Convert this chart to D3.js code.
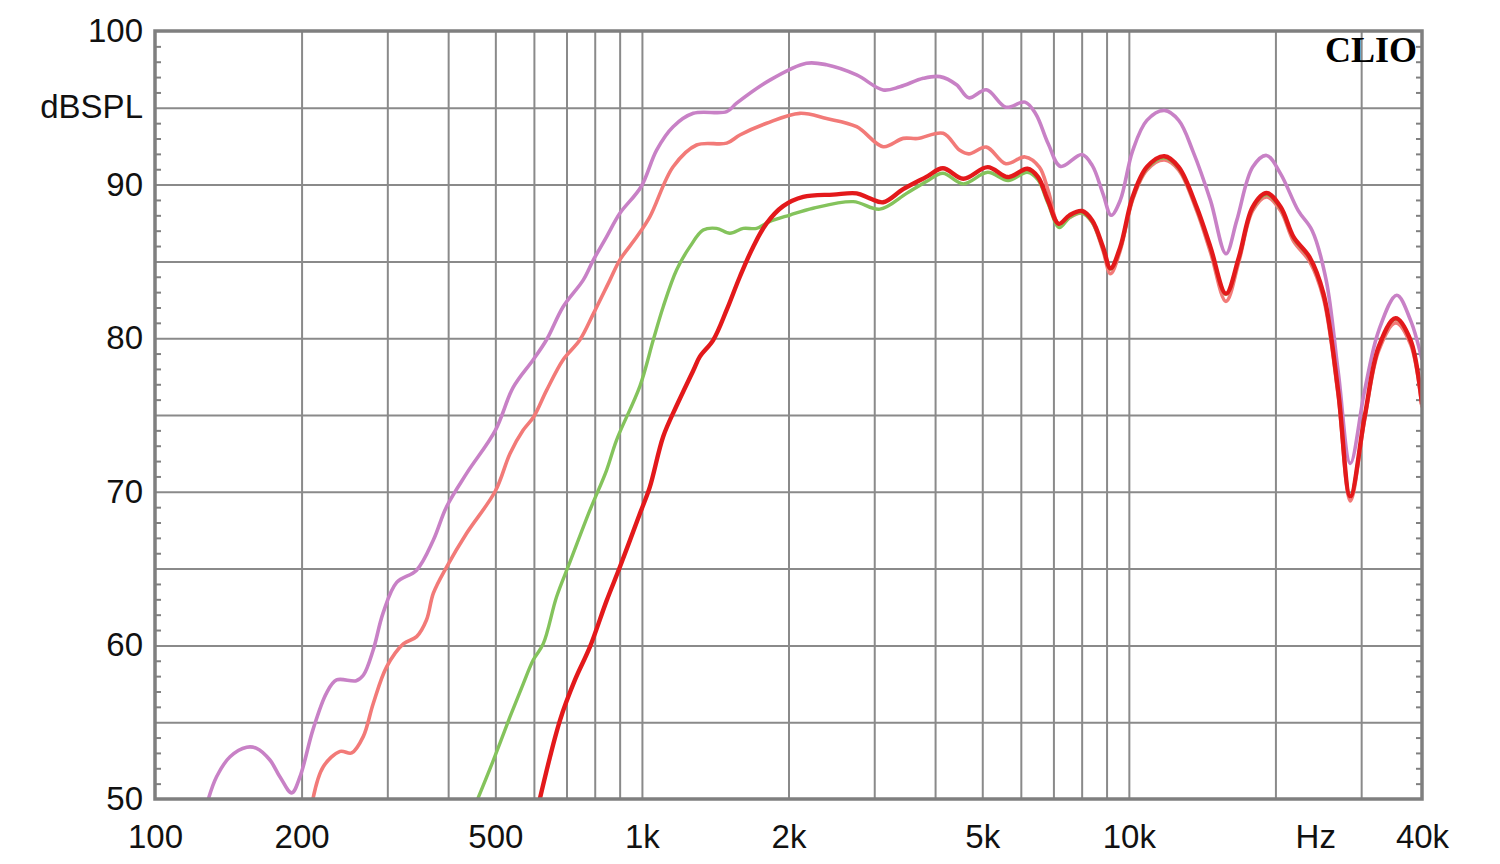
<!DOCTYPE html>
<html>
<head>
<meta charset="utf-8">
<script src="https://cdn.jsdelivr.net/npm/d3@7"></script>
<style>
  body { margin: 0; background: #fff; }
  #wrapper { width: 1500px; height: 864px; }
</style>
</head>
<body>
<div id="wrapper"></div>
<script>
// curves: frequency (Hz) and level (dBSPL)
const purpleFreq = [128.7, 133.8, 142.6, 154.3, 161.7, 172.2, 180.5, 190.9, 198.5, 211, 225, 236, 259, 268, 280.6, 294, 313.6, 344.6, 373, 397, 436.5, 500, 544, 598, 637, 689, 758, 795, 846, 901, 996, 1072, 1159, 1275, 1493, 1565, 1831, 2177, 2394, 2760, 3130, 3388, 3783, 4093, 4427, 4690, 5100, 5590, 6120, 6440, 6830, 7240, 8010, 8410, 8850, 9200, 9600, 10180, 10890, 11830, 12660, 13530, 14710, 15830, 16660, 17960, 19180, 20500, 22280, 23800, 25430, 26940, 28500, 30500, 32600, 35500, 37900, 40000];
const purpleDb = [50.0, 51.45, 52.75, 53.37, 53.3, 52.54, 51.45, 50.4, 51.45, 54.5, 56.9, 57.75, 57.7, 58.07, 59.7, 62.1, 64.1, 64.9, 66.86, 69.03, 71.2, 74.0, 76.8, 78.6, 79.9, 82.05, 83.8, 85.1, 86.6, 88.13, 89.86, 92.25, 93.77, 94.64, 94.75, 95.3, 96.8, 97.9, 97.8, 97.14, 96.16, 96.37, 96.92, 97.03, 96.5, 95.65, 96.17, 95.04, 95.37, 94.6, 92.66, 91.18, 91.96, 91.25, 89.4, 88.0, 88.97, 92.2, 94.18, 94.83, 94.18, 92.2, 88.97, 85.5, 87.67, 91.14, 91.9, 90.7, 88.3, 87.0, 83.76, 77.7, 71.85, 76.6, 80.5, 82.8, 81.16, 78.6];

const salmonFreq = [211, 221.6, 240, 253.5, 267.7, 280.6, 299, 323.6, 344.6, 361, 373, 397, 436.5, 500, 536, 570, 600, 637, 689, 746, 795, 860, 901, 976, 1038, 1159, 1295, 1493, 1589, 1803, 2110, 2394, 2760, 3130, 3440, 3683, 4156, 4488, 4690, 5100, 5590, 6120, 6550, 6830, 7200, 7550, 8010, 8410, 8850, 9170, 9600, 10180, 10890, 11830, 12660, 13780, 14710, 15830, 16830, 17960, 19180, 20500, 21800, 23500, 25100, 26900, 28500, 30500, 32600, 35300, 37900, 40000];
const salmonDb = [50.0, 52.1, 53.1, 53.0, 54.06, 56.2, 58.6, 60.1, 60.57, 61.65, 63.4, 65.1, 67.3, 70.05, 72.5, 74.0, 74.9, 76.6, 78.6, 79.9, 81.6, 83.8, 85.1, 86.6, 87.9, 91.16, 92.58, 92.7, 93.23, 93.99, 94.64, 94.3, 93.77, 92.47, 93.01, 93.0, 93.34, 92.25, 92.0, 92.44, 91.36, 91.8, 91.14, 89.6, 87.3, 87.85, 88.15, 87.55, 85.7, 84.2, 85.7, 89.0, 90.95, 91.6, 90.95, 88.3, 85.6, 82.4, 85.0, 88.3, 89.2, 88.3, 86.3, 85.0, 82.6, 76.3, 69.4, 74.7, 79.2, 81.0, 79.6, 75.5];

const greenFreq = [460, 495, 536, 570.5, 598, 627, 668, 711, 782, 846, 887, 991, 1055, 1106, 1178, 1255, 1336, 1423, 1516, 1615, 1720, 1831, 2014, 2247, 2716, 3081, 3496, 3838, 4150, 4570, 5130, 5650, 6190, 6510, 6820, 7200, 7550, 8010, 8410, 8850, 9170, 9600, 10180, 10890, 11830, 12660, 13780, 14710, 15830, 16830, 17960, 19180, 20500, 21800, 23500, 25100, 26900, 28500, 30500, 32600, 35300, 37900, 40000];
const greenDb = [50.0, 52.5, 55.36, 57.5, 59.05, 60.1, 63.17, 65.4, 68.8, 71.4, 73.37, 76.9, 79.88, 82.05, 84.44, 85.96, 87.04, 87.15, 86.83, 87.15, 87.15, 87.6, 88.02, 88.46, 88.89, 88.4, 89.43, 90.2, 90.74, 90.05, 90.8, 90.27, 90.8, 90.3, 88.8, 87.2, 87.85, 88.15, 87.55, 85.85, 84.5, 85.85, 89.1, 91.05, 91.75, 91.05, 88.45, 85.85, 82.85, 85.2, 88.45, 89.35, 88.45, 86.5, 85.2, 82.85, 76.55, 69.7, 74.85, 79.4, 81.25, 79.8, 75.7];

const redFreq = [617, 679, 728.6, 782, 846, 901, 991, 1038, 1106, 1178, 1275, 1315, 1401, 1493, 1589, 1693, 1803, 1950, 2144, 2471, 2760, 2938, 3130, 3440, 3838, 4150, 4570, 5130, 5650, 6190, 6510, 6820, 7180, 7550, 8010, 8410, 8850, 9170, 9600, 10180, 10890, 11830, 12660, 13780, 14710, 15830, 16830, 17960, 19180, 20500, 21800, 23500, 25100, 26900, 28500, 30500, 32600, 35300, 37900, 40000];
const redDb = [50.0, 55.14, 57.75, 59.9, 62.9, 65.1, 68.6, 70.3, 73.6, 75.6, 77.9, 78.8, 79.88, 81.84, 84.0, 85.96, 87.48, 88.6, 89.2, 89.35, 89.43, 89.1, 88.85, 89.7, 90.5, 91.06, 90.38, 91.14, 90.49, 91.03, 90.49, 88.97, 87.45, 88.0, 88.28, 87.67, 85.93, 84.55, 85.93, 89.19, 91.14, 91.85, 91.14, 88.54, 85.93, 82.9, 85.28, 88.54, 89.45, 88.54, 86.58, 85.28, 82.9, 76.6, 69.7, 74.9, 79.45, 81.3, 79.86, 75.7];

// axis labels
const xLabelValues = [100, 200, 500, 1000, 2000, 5000, 10000, 40000];
const xLabelText = ["100", "200", "500", "1k", "2k", "5k", "10k", "40k"];
const xGridValues = [200, 300, 400, 500, 600, 700, 800, 900, 1000, 2000, 3000, 4000, 5000, 6000, 7000, 8000, 9000, 10000, 20000, 30000];
const yLabelValues = [50, 60, 70, 80, 90, 100];
const yGridValues = [55, 60, 65, 70, 75, 80, 85, 90, 95];
const yUnit = "dBSPL";
const xUnit = "Hz";
const brand = "CLIO";

function buildPlot() {
    const dimension = {
        width: 1500,
        height: 864,
        margin: { top: 31, left: 155, bottom: 65, right: 78 }
    };
    dimension.boundedWidth = dimension.width - dimension.margin.left - dimension.margin.right;
    dimension.boundedHeight = dimension.height - dimension.margin.top - dimension.margin.bottom;

    const svg = d3.select("#wrapper").append("svg")
        .attr("width", dimension.width)
        .attr("height", dimension.height)
        .style("font-family", "'Liberation Sans', Arial, sans-serif");

    const bounded = svg.append("g")
        .attr("transform", `translate(${dimension.margin.left},${dimension.margin.top})`);

    const xScaler = d3.scaleLog()
        .domain([100, 40000])
        .range([0, dimension.boundedWidth]);
    const yScaler = d3.scaleLinear()
        .domain([50, 100])
        .range([dimension.boundedHeight, 0]);

    const gridColor = "#8a8a8a";

    // grid
    const xGrid = bounded.append("g")
        .attr("transform", `translate(0,${dimension.boundedHeight})`)
        .call(d3.axisBottom(xScaler).tickValues(xGridValues).tickSize(-dimension.boundedHeight).tickFormat(""));
    const yGrid = bounded.append("g")
        .call(d3.axisLeft(yScaler).tickValues(yGridValues).tickSize(-dimension.boundedWidth).tickFormat(""));
    [xGrid, yGrid].forEach(g => {
        g.select(".domain").remove();
        g.selectAll("line").attr("stroke", gridColor).attr("stroke-width", 2);
    });

    // minor ticks every dB on both side borders
    const minorValues = d3.range(51, 100).filter(v => v % 5 !== 0);
    const leftMinor = bounded.append("g")
        .call(d3.axisRight(yScaler).tickValues(minorValues).tickSize(6).tickFormat(""));
    const rightMinor = bounded.append("g")
        .attr("transform", `translate(${dimension.boundedWidth},0)`)
        .call(d3.axisLeft(yScaler).tickValues(minorValues).tickSize(6).tickFormat(""));
    [leftMinor, rightMinor].forEach(g => {
        g.select(".domain").remove();
        g.selectAll("line").attr("stroke", "#808080").attr("stroke-width", 2);
    });

    // curves
    bounded.append("clipPath").attr("id", "plotClip")
        .append("rect")
        .attr("width", dimension.boundedWidth)
        .attr("height", dimension.boundedHeight);

    const lineGenerator = d3.line()
        .x(d => xScaler(d[0]))
        .y(d => yScaler(d[1]))
        .curve(d3.curveCatmullRom.alpha(0.5));

    const series = [
        { f: purpleFreq, v: purpleDb, color: "#c881c6", w: 3.6 },
        { f: salmonFreq, v: salmonDb, color: "#f27a78", w: 3.6 },
        { f: greenFreq, v: greenDb, color: "#84c35c", w: 3.4 },
        { f: redFreq, v: redDb, color: "#e3191b", w: 4.4 }
    ];
    const curves = bounded.append("g").attr("clip-path", "url(#plotClip)");
    series.forEach(s => {
        curves.append("path")
            .attr("fill", "none")
            .attr("stroke", s.color)
            .attr("stroke-width", s.w)
            .attr("stroke-linejoin", "round")
            .attr("d", lineGenerator(d3.zip(s.f, s.v)));
    });

    // frame
    bounded.append("rect")
        .attr("width", dimension.boundedWidth)
        .attr("height", dimension.boundedHeight)
        .attr("fill", "none")
        .attr("stroke", "#7f7f7f")
        .attr("stroke-width", 3.5);

    // tick labels
    const xAxis = bounded.append("g")
        .attr("transform", `translate(0,${dimension.boundedHeight})`)
        .call(d3.axisBottom(xScaler).tickValues(xLabelValues).tickSize(0).tickPadding(26)
            .tickFormat((d, i) => xLabelText[i]));
    const yAxis = bounded.append("g")
        .call(d3.axisLeft(yScaler).tickValues(yLabelValues).tickSize(0).tickPadding(12));
    [xAxis, yAxis].forEach(g => {
        g.select(".domain").remove();
        g.selectAll("text")
            .attr("fill", "#111")
            .style("font-size", "33px")
            .style("font-family", "'Liberation Sans', Arial, sans-serif");
    });

    bounded.append("text")
        .attr("x", -12)
        .attr("y", yScaler(95))
        .attr("dy", "0.32em")
        .attr("text-anchor", "end")
        .attr("fill", "#111")
        .style("font-size", "33px")
        .text(yUnit);

    bounded.append("text")
        .attr("x", xScaler(24200))
        .attr("y", dimension.boundedHeight + 26)
        .attr("dy", "0.71em")
        .attr("text-anchor", "middle")
        .attr("fill", "#111")
        .style("font-size", "33px")
        .text(xUnit);

    bounded.append("text")
        .attr("x", dimension.boundedWidth - 5)
        .attr("y", 31)
        .attr("text-anchor", "end")
        .attr("fill", "#000")
        .style("font-family", "'Liberation Serif', 'DejaVu Serif', serif")
        .style("font-weight", "bold")
        .style("font-size", "36px")
        .text(brand);
}

buildPlot();
</script>
</body>
</html>
